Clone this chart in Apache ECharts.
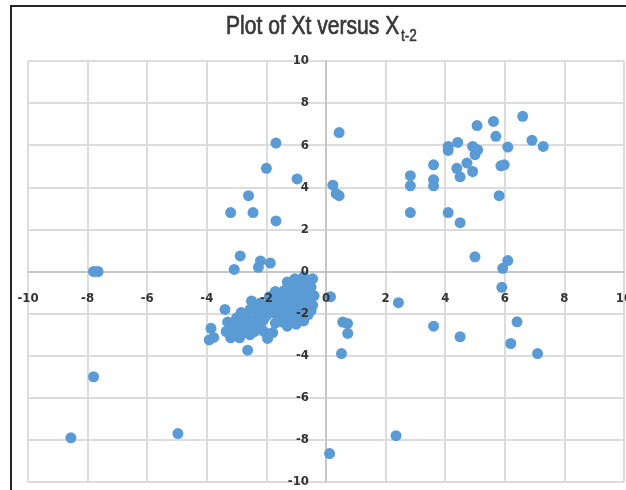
<!DOCTYPE html>
<html>
<head>
<meta charset="utf-8">
<script src="https://cdn.jsdelivr.net/npm/echarts@6/dist/echarts.min.js"></script>
<style>
html,body{margin:0;padding:0;background:#fff;}
#c{width:626px;height:490px;}
</style>
</head>
<body>
<div id="c"></div>
<script>
// X_{t-2} values (horizontal) and X_t values (vertical)
var xLag2 = [
  -1.68, -2.0, -0.97, -2.6, -3.2, -2.45, -1.68, -2.88, -3.08, -2.2, -2.27, -1.87, -7.8, -7.65,
  0.44, 0.23, 0.34, 0.44,
  0.15, 0.56, 0.72, 0.73, 0.52,
  2.43, 3.61, 4.5, 6.41, 6.2, 7.1, 2.35, 0.12,
  5.0, 5.93, 6.1, 5.9,
  -7.8, -8.56, -4.97,
  2.83, 2.83, 2.83, 3.61, 3.61, 3.61, 4.1, 4.1, 4.42, 4.1, 4.5, 4.39, 4.5, 4.73, 4.92, 4.92, 5.09, 5.0, 5.07, 5.62, 5.7, 6.1, 5.87, 5.98, 5.81, 6.6, 6.91, 7.29,
  -0.45, -0.75, -1.05, -1.3, -0.5, -0.8, -1.1, -1.4, -1.7, -0.4, -0.7, -1.0, -1.3, -1.6, -1.9, -0.45, -0.75, -1.05, -1.35, -1.65, -1.95, -0.6, -0.9, -1.2, -1.5, -1.0, -1.3, -1.7,
  -0.6, -0.9, -1.2, -0.55, -0.85, -1.15, -1.45, -0.55, -0.85, -1.15, -1.45, -1.75, -0.5, -0.8, -1.1, -1.4, -1.7, -0.75, -1.15, -1.45, -2.0,
  -2.2, -2.5, -2.25, -2.55, -2.85, -2.1, -2.4, -2.7, -3.0, -3.3, -2.2, -2.5, -2.85, -3.15, -3.35, -2.9, -3.2, -2.55,
  -2.35, -2.7, -2.35, -2.65, -2.95, -3.1, -2.0, -3.05, -2.7, -2.4,
  -3.39, -3.86, -3.77, -3.92, -2.63, -1.96, -2.07, -1.79
];
var xT = [
  6.1, 4.9, 4.4, 3.6, 2.8, 2.8, 2.4, 0.74, 0.1, 0.5, 0.2, 0.4, 0.0, 0.0,
  6.6, 4.1, 3.7, 3.6,
  -1.2, -2.4, -2.47, -2.94, -3.9,
  -1.48, -2.6, -3.1, -2.39, -3.42, -3.9, -7.8, -8.65,
  0.7, 0.15, 0.52, -0.75,
  -5.0, -7.9, -7.7,
  4.55, 4.07, 2.8, 5.07, 4.36, 4.07, 5.94, 5.75, 6.13, 2.8, 2.32, 4.9, 4.5, 5.15, 4.75, 5.94, 5.78, 5.55, 6.93, 7.13, 6.42, 5.91, 5.02, 5.07, 3.6, 7.37, 6.23, 5.94,
  -0.35, -0.25, -0.35, -0.5, -0.75, -0.7, -0.8, -0.9, -0.95, -1.15, -1.2, -1.25, -1.3, -1.35, -1.2, -1.6, -1.65, -1.7, -1.75, -1.7, -1.65, -2.05, -2.15, -2.2, -2.15, -2.5, -2.6, -2.45,
  -0.5, -0.5, -0.65, -0.95, -0.95, -1.05, -1.1, -1.4, -1.45, -1.5, -1.55, -1.5, -1.85, -1.9, -1.95, -1.95, -2.0, -2.35, -2.4, -2.4, -1.95,
  -1.5, -1.4, -1.9, -1.8, -1.95, -2.3, -2.25, -2.3, -2.2, -2.4, -2.6, -2.7, -2.75, -2.7, -2.85, -3.15, -3.15, -3.0,
  -1.65, -2.05, -2.45, -2.5, -2.5, -2.45, -2.1, -2.95, -2.9, -2.85,
  -1.8, -2.7, -3.13, -3.25, -3.74, -3.18, -2.87, -2.9
];
var axisMin = -10, axisMax = 10, axisStep = 2;
var titleMain = 'Plot of Xt versus X';
var titleSub = 't-2';

var pts = xLag2.map(function (v, i) { return [v, xT[i]]; });
var chart = echarts.init(document.getElementById('c'), null, {renderer: 'canvas'});
var labelFont = "'Liberation Sans Narrow','DejaVu Sans Condensed','Liberation Sans',sans-serif";
var gridL = 28, gridR = 2, gridT = 61, gridB = 8;
var plotW = 626 - gridL - gridR, plotH = 490 - gridT - gridB;

function baseAxis(off) {
  return {
    type: 'value', min: axisMin, max: axisMax, interval: axisStep,
    offset: off,
    axisLine: {show: true, onZero: false, lineStyle: {color: '#bfbfbf', width: 1.5}},
    axisTick: {show: false},
    axisLabel: {show: false},
    splitLine: {show: true, lineStyle: {color: '#dcdcdc', width: 2}},
    z: 0
  };
}
function labelAxis(off, margin, pos) {
  return {
    type: 'value', min: axisMin, max: axisMax, interval: axisStep,
    position: pos,
    offset: off,
    axisLine: {show: false, onZero: false},
    axisTick: {show: false},
    splitLine: {show: false},
    axisLabel: {margin: margin, color: '#333', fontSize: 13, fontFamily: labelFont, fontWeight: 'bold', showMinLabel: true, showMaxLabel: true, hideOverlap: false},
    z: 10
  };
}

chart.setOption({
  animation: false,
  backgroundColor: '#fff',
  graphic: [{
    type: 'rect',
    shape: {x: 11, y: 6, width: 640, height: 500},
    style: {fill: 'none', stroke: '#262626', lineWidth: 2},
    silent: true,
    z: 100
  }, {
    type: 'text',
    x: 226, y: 27, scaleX: 0.81, originX: 0,
    style: {text: titleMain, font: "normal 26px 'Liberation Sans', Arial, sans-serif", fill: '#383838', stroke: '#383838', lineWidth: 0.7, align: 'left', verticalAlign: 'middle'},
    silent: true
  }, {
    type: 'text',
    x: 401, y: 37, scaleX: 0.85, originX: 0,
    style: {text: titleSub, font: "normal 16px 'Liberation Sans', Arial, sans-serif", fill: '#383838', stroke: '#383838', lineWidth: 0.5, align: 'left', verticalAlign: 'middle'},
    silent: true
  }],
  grid: {left: gridL, right: gridR, top: gridT, bottom: gridB, containLabel: false, outerBoundsMode: 'none'},
  xAxis: [baseAxis(-plotH / 2), labelAxis(-plotH / 2, 21, 'bottom')],
  yAxis: [baseAxis(-plotW / 2), labelAxis(-plotW / 2, 17, 'left')],
  series: [{
    type: 'scatter',
    data: pts,
    xAxisIndex: 0,
    yAxisIndex: 0,
    symbolSize: 11,
    z: 3,
    itemStyle: {color: '#5b9bd5', opacity: 1}
  }]
});
</script>
</body>
</html>
